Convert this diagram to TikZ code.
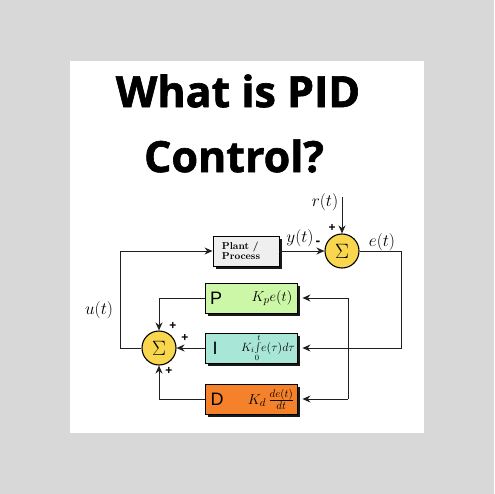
\documentclass[tikz,border=0pt]{standalone}
\usepackage{fontspec}
\setsansfont{Liberation Sans}
\newfontfamily\titlefont[FakeBold=1.5]{Open Sans Bold}
\usetikzlibrary{arrows.meta,shadows}
\definecolor{bggray}{HTML}{D8D8D8}
\definecolor{pgreen}{HTML}{CCF7A6}
\definecolor{iteal}{HTML}{A8E6D8}
\definecolor{dorange}{HTML}{F5822A}
\definecolor{sumyellow}{HTML}{F8D64E}
\definecolor{plantgray}{HTML}{EFEFEF}
\definecolor{linegray}{HTML}{202020}
\tikzset{
  blockbox/.style={draw=black, line width=0.9pt, minimum width=92pt, minimum height=30pt, inner sep=0pt,
    drop shadow={shadow xshift=3pt, shadow yshift=-3pt, fill=black, opacity=0.9}},
  sumnode/.style={circle, draw=black, line width=1.1pt, fill=sumyellow, minimum size=34pt, inner sep=0pt, font=\fontsize{21}{21}\selectfont},
  conn/.style={draw=linegray, line width=1pt},
  arr/.style={conn, -{Stealth[length=8pt,width=7pt]}},
  sign/.style={font=\sffamily\bfseries\fontsize{12}{12}\selectfont, inner sep=0pt},
  mlabel/.style={font=\fontsize{16}{16}\selectfont, inner sep=0pt},
  letter/.style={font=\sffamily\fontsize{18}{18}\selectfont, inner sep=0pt}
}
\begin{document}
\begin{tikzpicture}[x=1pt,y=-1pt]
\useasboundingbox (0,0) rectangle (494,494);
\fill[bggray] (0,0) rectangle (494,494);
\fill[white] (70,61) rectangle (424,433);
% title
\node[font=\titlefont\fontsize{43}{43}\selectfont, inner sep=0pt] (t1) at (238,91) {What is PID};
\node[font=\titlefont\fontsize{43}{43}\selectfont, inner sep=0pt] (t2) at (234,156) {Control?};
% blocks
\node[blockbox, fill=plantgray, minimum width=66pt, minimum height=30pt] (plant) at (246,251) {};
\node[font=\bfseries\fontsize{10}{10.5}\selectfont, align=left, inner sep=0pt] (plantlbl) at (241,251) {Plant /\\Process};
\node[blockbox, fill=pgreen] (P) at (251,298) {};
\node[blockbox, fill=iteal] (I) at (251,348) {};
\node[blockbox, fill=dorange] (D) at (251,399) {};
\node[letter] (Pl) at (216,298) {P};
\node[letter] (Il) at (215,348) {I};
\node[letter] (Dl) at (217,399) {D};
\node[font=\fontsize{15}{15}\selectfont, inner sep=0pt] (Pf) at (272,298) {$K_{p}e(t)$};
\node[font=\fontsize{11.5}{11.5}\selectfont, inner sep=0pt] (If) at (268,348) {$K_{i}\!\int\limits_0^t\! e(\tau)d\tau$};
\node[font=\fontsize{15}{15}\selectfont, inner sep=0pt] (Df) at (271,399) {$K_{d}\,\frac{de(t)}{dt}$};
% sums
\node[sumnode] (s1) at (342,251) {$\Sigma$};
\node[sumnode] (s2) at (159,348) {$\Sigma$};
% coordinates
\coordinate (rtop) at (342,197);
\coordinate (ecorner1) at (401,251);
\coordinate (ecorner2) at (401,348);
\coordinate (vtop) at (348,298);
\coordinate (vbot) at (348,399);
\coordinate (pc) at (159,298);
\coordinate (dc) at (159,399);
\coordinate (uc1) at (120,348);
\coordinate (uc2) at (120,251);
% connectors
\draw[arr] (rtop) -- (s1.north);
\draw[arr] (plant.east) -- (s1.west);
\draw[arr] (s1.east) -- (ecorner1) -- (ecorner2) -- ([xshift=5pt]I.east);
\draw[conn] (vtop) -- (vbot);
\draw[arr] (vtop) -- ([xshift=5pt]P.east);
\draw[arr] (vbot) -- ([xshift=5pt]D.east);
\draw[arr] (P.west) -- (pc) -- (s2.north);
\draw[arr] (I.west) -- (s2.east);
\draw[arr] (D.west) -- (dc) -- (s2.south);
\draw[arr] (s2.west) -- (uc1) -- (uc2) -- (plant.west);
% labels
\node[mlabel] (rl) at (325,202) {$r(t)$};
\node[mlabel] (yl) at (300,238) {$y(t)$};
\node[mlabel] (el) at (382,242) {$e(t)$};
\node[mlabel] (ul) at (99,310) {$u(t)$};
\node[sign] (p1) at (332,228) {+};
\node[font=\sffamily\bfseries\fontsize{14}{14}\selectfont, inner sep=0pt] (m1) at (318,243) {-};
\node[sign] (p2) at (173,326) {+};
\node[sign] (p3) at (185,338) {+};
\node[sign] (p4) at (169,371) {+};
\end{tikzpicture}
\end{document}
